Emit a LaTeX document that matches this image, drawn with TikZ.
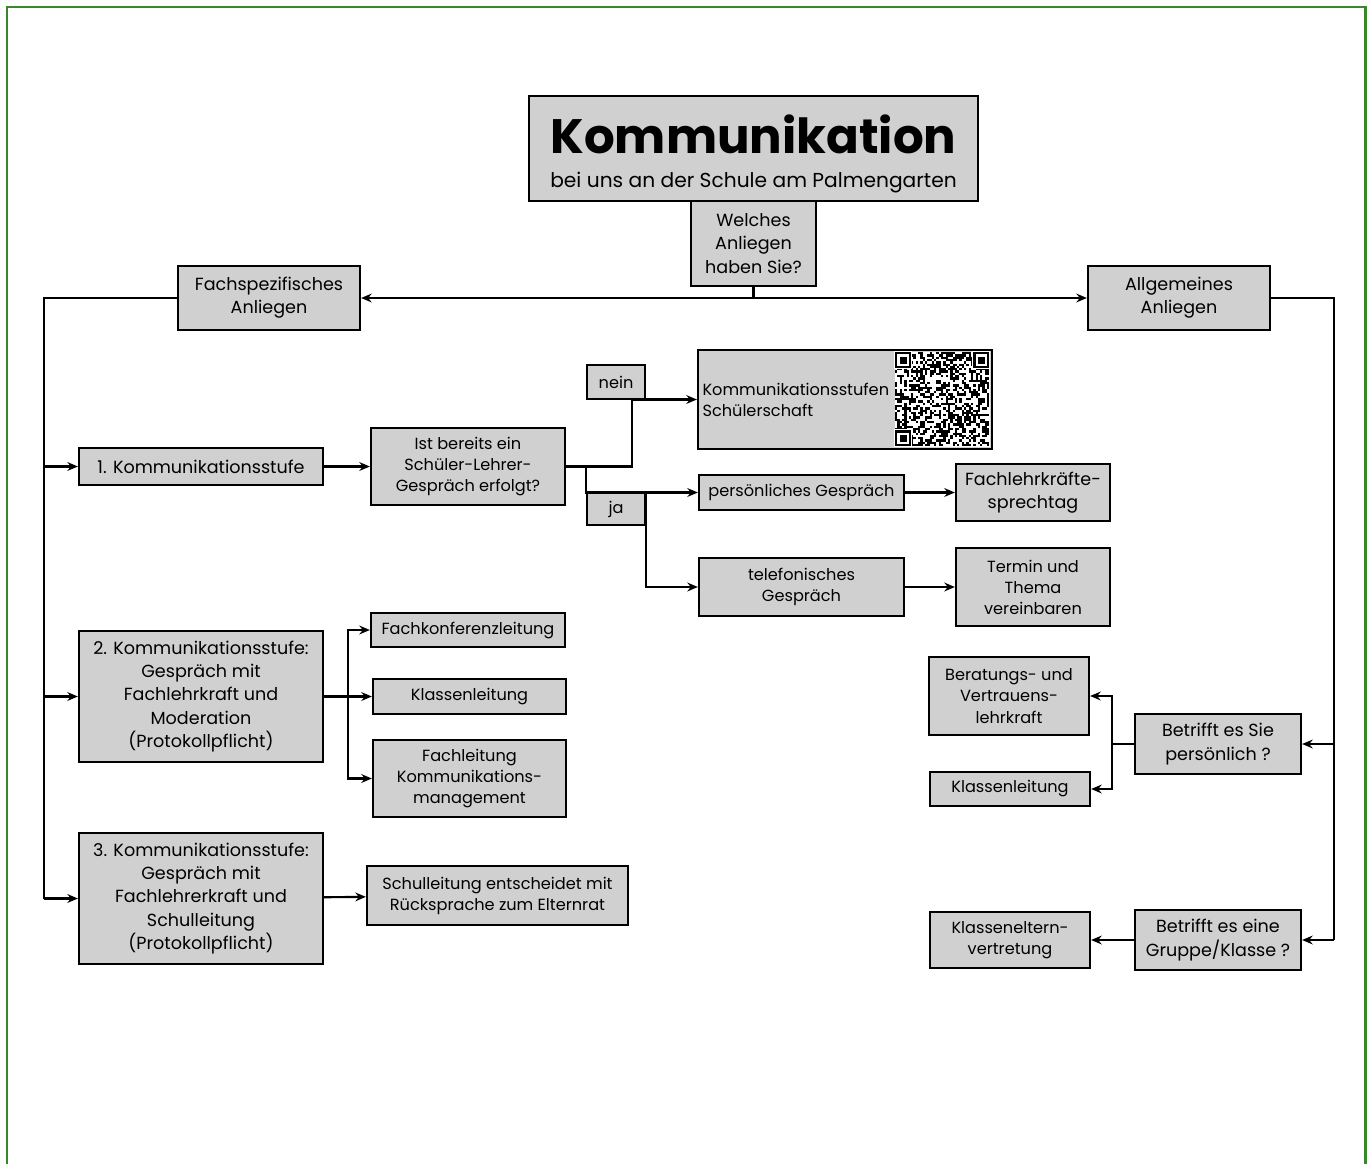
\documentclass[tikz,border=0pt]{standalone}
\usepackage{fontspec}
\setmainfont{Poppins}
\usetikzlibrary{arrows.meta, positioning}
\definecolor{boxgray}{RGB}{208,208,208}
\definecolor{framegreen}{RGB}{54,136,40}
\newcommand{\boxfont}{\fontsize{10}{13.2}\selectfont}
\newcommand{\smallboxfont}{\fontsize{9.2}{12}\selectfont}
\tikzstyle{block} = [rectangle, draw, fill=boxgray, line width=1.3pt, text centered, align=center, inner sep=2pt, font=\boxfont]
\tikzstyle{smallblock} = [block, font=\smallboxfont]
\tikzstyle{arrow} = [line width=1.2pt,->,>={Stealth[length=6pt,width=5pt]}]
\tikzstyle{link} = [line width=1.2pt]

\begin{document}
\begin{tikzpicture}[x=0.02cm, y=-0.02cm]
    \useasboundingbox (0,0) rectangle (1367,1164);
    \draw [framegreen, line width=1.7pt] (7,1164) -- (7,7) -- (1365,7) -- (1365,1164);

    % Head
    \node (title) [block, minimum width=8.98cm, minimum height=2.1cm] at (753.5,148.5)
        {{\fontsize{27.5}{30}\selectfont\bfseries\rule{0pt}{28pt}Kommunikation}\\[6pt]
         {\fontsize{11.5}{13}\selectfont bei uns an der Schule am Palmengarten}};
    \node (question) [block, minimum width=2.5cm, minimum height=1.7cm] at (753.5,243.5) {Welches\\Anliegen\\haben Sie?};
    \node (fach) [block, minimum width=3.64cm, minimum height=1.28cm] at (269,298) {Fachspezifisches\\Anliegen};
    \node (allg) [block, minimum width=3.64cm, minimum height=1.28cm] at (1179,298) {Allgemeines\\Anliegen};

    % Fachspezifisch
    \node (stufe1) [block, minimum width=4.88cm, minimum height=0.74cm] at (201,466.5) {1. Kommunikationsstufe};
    \node (erfolgt) [smallblock, minimum width=3.88cm, minimum height=1.54cm] at (468,466.5) {Ist bereits ein\\Schüler-Lehrer-\\Gespräch erfolgt?};
    \node (nein) [smallblock, minimum width=1.16cm, minimum height=0.68cm] at (616,382) {nein};
    \node (ja) [smallblock, minimum width=1.16cm, minimum height=0.64cm] at (616,509) {ja};
    \node (schueler) [smallblock, minimum width=5.88cm, minimum height=1.98cm, text width=5.7cm, align=left, inner sep=0.09cm] at (845,399.5) {Kommunikationsstufen\\Schülerschaft};
    \node (persgespr) [smallblock, minimum width=4.1cm, minimum height=0.7cm] at (801.5,492.5) {persönliches Gespräch};
    \node (sprechtag) [block, minimum width=3.08cm, minimum height=1.14cm] at (1033,492.5) {Fachlehrkräfte-\\sprechtag};
    \node (telgespr) [smallblock, minimum width=4.1cm, minimum height=1.16cm] at (801.5,587) {telefonisches\\Gespräch};
    \node (termin) [smallblock, minimum width=3.08cm, minimum height=1.56cm] at (1033,587) {Termin und\\Thema\\vereinbaren};

    \node (stufe2) [block, minimum width=4.88cm, minimum height=2.62cm] at (201,696.5) {2. Kommunikationsstufe:\\Gespräch mit\\Fachlehrkraft und\\Moderation\\(Protokollpflicht)};
    \node (fkleitung) [smallblock, minimum width=3.88cm, minimum height=0.68cm] at (468,630) {Fachkonferenzleitung};
    \node (kleitung) [smallblock, minimum width=3.86cm, minimum height=0.7cm] at (469.5,696.5) {Klassenleitung};
    \node (fleitung) [smallblock, minimum width=3.86cm, minimum height=1.54cm] at (469.5,778.5) {Fachleitung\\Kommunikations-\\management};

    \node (stufe3) [block, minimum width=4.88cm, minimum height=2.62cm] at (201,898.5) {3. Kommunikationsstufe:\\Gespräch mit\\Fachlehrerkraft und\\Schulleitung\\(Protokollpflicht)};
    \node (sleitung) [smallblock, minimum width=5.22cm, minimum height=1.18cm] at (497.5,895.5) {Schulleitung entscheidet mit\\Rücksprache zum Elternrat};

    % Allgemein
    \node (persfrage) [block, minimum width=3.32cm, minimum height=1.2cm] at (1218,744) {Betrifft es Sie\\persönlich ?};
    \node (beratung) [smallblock, minimum width=3.2cm, minimum height=1.56cm] at (1009,696) {Beratungs- und\\Vertrauens-\\lehrkraft};
    \node (kleitung2) [smallblock, minimum width=3.2cm, minimum height=0.68cm] at (1010,789) {Klassenleitung};
    \node (gruppefrage) [block, minimum width=3.32cm, minimum height=1.2cm] at (1218,940) {Betrifft es eine\\Gruppe/Klasse ?};
    \node (eltern) [smallblock, minimum width=3.2cm, minimum height=1.12cm] at (1010,940) {Klasseneltern-\\vertretung};

    % QR code
    \begin{scope}[shift={(895,352)}]
        \pgfmathsetseed{4711}
        \fill [white] (0,0) rectangle (95,95);
        \foreach \i in {0,...,40}
            \foreach \j in {0,...,40} {
                \pgfmathtruncatemacro\bit{rnd<0.5 ? 1 : 0}
                \ifnum\bit=1 \fill (\i*2.3,\j*2.3) rectangle ++(2.3,2.3); \fi
            };
        \foreach \fx/\fy in {0/0, 78.2/0, 0/78.2} {
            \fill [white] (\fx-1,\fy-1) rectangle ++(18.1,18.1);
            \fill (\fx,\fy) rectangle ++(16.1,16.1);
            \fill [white] (\fx+2.3,\fy+2.3) rectangle ++(11.5,11.5);
            \fill (\fx+4.6,\fy+4.6) rectangle ++(6.9,6.9);
        };
    \end{scope}

    % Coordinates
    \coordinate (split) at (753.5,298);
    \coordinate (lspine) at (44,298);
    \coordinate (rspine) at (1334,298);
    \coordinate (fork) at (632,466.5);
    \coordinate (jafork) at (586,466.5);
    \coordinate (s2fork) at (348,696.5);
    \coordinate (pfork) at (1112,744);

    % ==== Arrows
    \draw [link] (question) -- (split);
    \draw [arrow] (split) -- (fach);
    \draw [arrow] (split) -- (allg);

    % Fachspezifisch
    \draw [link] (fach.west) -- (lspine) -- (lspine |- stufe3);
    \draw [arrow] (lspine |- stufe1) -- (stufe1);
    \draw [arrow] (lspine |- stufe2) -- (stufe2);
    \draw [arrow] (lspine |- stufe3) -- (stufe3);
    \draw [arrow] (stufe1) -- (erfolgt);
    \draw [arrow] (erfolgt.east) -- (fork) |- (schueler.west);
    \draw [arrow] (jafork) |- (persgespr.west);
    \draw [arrow] (ja.north east) |- (telgespr.west);
    \draw [arrow] (persgespr) -- (sprechtag);
    \draw [arrow] (telgespr) -- (termin);
    \draw [arrow] (stufe2) -- (kleitung);
    \draw [arrow] (s2fork) |- (fkleitung.west);
    \draw [arrow] (s2fork) |- (fleitung.west);
    \draw [arrow] (stufe3) -- (sleitung);

    % Allgemein
    \draw [link] (allg.east) -- (rspine) -- (rspine |- gruppefrage);
    \draw [arrow] (rspine |- persfrage) -- (persfrage);
    \draw [arrow] (rspine |- gruppefrage) -- (gruppefrage);
    \draw [link] (persfrage) -- (pfork);
    \draw [arrow] (pfork) |- (beratung.east);
    \draw [arrow] (pfork) |- (kleitung2.east);
    \draw [arrow] (gruppefrage) -- (eltern);

\end{tikzpicture}
\end{document}
